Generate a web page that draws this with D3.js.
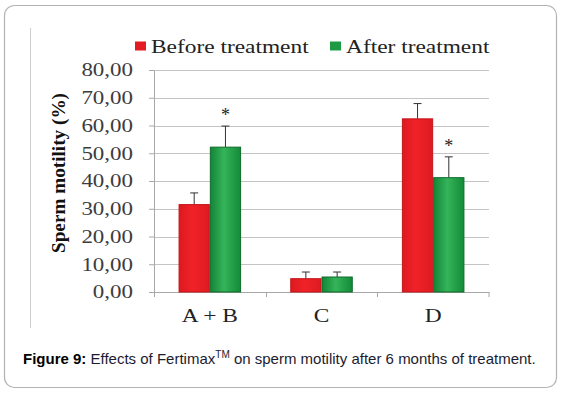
<!DOCTYPE html>
<html>
<head>
<meta charset="utf-8">
<script src="https://cdnjs.cloudflare.com/ajax/libs/d3/7.8.5/d3.min.js"></script>
<style>
  body { margin: 0; background: #fff; }
  svg { display: block; }
</style>
</head>
<body>
<svg id="chart"></svg>
<script>
// data
const categories = ['A + B', 'C', 'D'];
const seriesNames = ['Before treatment', 'After treatment'];
const beforeValues = [31.5, 4.8, 62.4];
const afterValues = [52.2, 5.4, 41.2];
const beforeErrors = [4.2, 2.4, 5.5];
const afterErrors = [7.6, 1.8, 7.5];
const afterSignificant = [true, false, true];
const yTicks = [0, 10, 20, 30, 40, 50, 60, 70, 80];

const W = 562, H = 393;
const plot = {left: 154, right: 489, top: 70, bottom: 292};
const serif = '"Liberation Serif", "Times New Roman", serif';
const sans = '"Liberation Sans", Arial, sans-serif';

const svg = d3.select('#chart').attr('width', W).attr('height', H);

// stretch text horizontally like the squeezed original image
function stretch(sel, k) {
  sel.each(function() {
    const w = this.getComputedTextLength();
    d3.select(this).attr('textLength', w * k).attr('lengthAdjust', 'spacingAndGlyphs');
  });
}

// outer frame of the figure
svg.append('rect')
    .attr('x', 4.5).attr('y', 5.5)
    .attr('width', 552).attr('height', 382)
    .attr('rx', 10)
    .attr('fill', '#fff')
    .attr('stroke', '#b3b3b3')
    .attr('stroke-width', 1.2);

// left edge of the pasted chart picture
svg.append('line')
    .attr('x1', 30.5).attr('x2', 30.5)
    .attr('y1', 28).attr('y2', 328)
    .attr('stroke', '#cfcfcf');

const defs = svg.append('defs');
const gGreen = defs.append('linearGradient').attr('id', 'gGreen');
gGreen.append('stop').attr('offset', '0%').attr('stop-color', '#138537');
gGreen.append('stop').attr('offset', '45%').attr('stop-color', '#35b45a');
gGreen.append('stop').attr('offset', '100%').attr('stop-color', '#148a39');
const gRed = defs.append('linearGradient').attr('id', 'gRed');
gRed.append('stop').attr('offset', '0%').attr('stop-color', '#dc1a1f');
gRed.append('stop').attr('offset', '45%').attr('stop-color', '#f02229');
gRed.append('stop').attr('offset', '100%').attr('stop-color', '#de1b21');

const fills = ['url(#gRed)', 'url(#gGreen)'];
const strokes = ['#c4161b', '#0e6b2b'];
const legendFills = ['#e31b23', '#1e9a45'];

// scales
const x0 = d3.scaleBand().domain(categories).range([plot.left, plot.right]);
const groupW = x0.bandwidth() * 0.56;
const x1 = d3.scaleBand().domain(seriesNames).range([0, groupW]);
const y = d3.scaleLinear().domain([0, 80]).range([plot.bottom, plot.top]);

// gridlines
svg.append('g')
    .selectAll('line')
    .data(yTicks.filter(d => d > 0))
    .join('line')
    .attr('x1', plot.left).attr('x2', plot.right)
    .attr('y1', d => Math.round(y(d)) + 0.5).attr('y2', d => Math.round(y(d)) + 0.5)
    .attr('stroke', '#c4c4c4')
    .attr('stroke-width', 1.2);

// y axis
const yAxisG = svg.append('g')
    .attr('transform', `translate(${plot.left},0)`)
    .call(d3.axisLeft(y).tickValues(yTicks).tickSize(5).tickSizeOuter(0)
      .tickFormat(d => d3.format('.2f')(d).replace('.', ',')));
yAxisG.select('.domain').attr('stroke', '#a8a8a8');
yAxisG.selectAll('.tick line').attr('stroke', '#a8a8a8');
yAxisG.selectAll('.tick text')
    .attr('x', -21)
    .attr('fill', '#3c3c3c')
    .style('font-family', serif)
    .style('font-size', '18.5px')
    .call(stretch, 1.24);

// x axis
const xAxisG = svg.append('g')
    .attr('transform', `translate(0,${plot.bottom})`)
    .call(d3.axisBottom(x0).tickSize(0).tickSizeOuter(0).tickPadding(16));
xAxisG.select('.domain').attr('stroke', '#a8a8a8');
xAxisG.selectAll('.tick text')
    .attr('fill', '#222')
    .style('font-family', serif)
    .style('font-size', '19.5px')
    .call(stretch, 1.2);
// category boundary ticks
xAxisG.selectAll('.sep')
    .data(categories)
    .join('line')
    .attr('class', 'sep')
    .attr('x1', d => Math.round(x0(d)) + 0.5).attr('x2', d => Math.round(x0(d)) + 0.5)
    .attr('y1', 0).attr('y2', 5)
    .attr('stroke', '#a8a8a8');
xAxisG.append('line')
    .attr('x1', plot.right).attr('x2', plot.right)
    .attr('y1', 0).attr('y2', 5)
    .attr('stroke', '#a8a8a8');

// bar data
const rows = [];
categories.forEach((c, i) => {
  rows.push({cat: c, s: 0, v: beforeValues[i], e: beforeErrors[i], sig: false});
  rows.push({cat: c, s: 1, v: afterValues[i], e: afterErrors[i], sig: afterSignificant[i]});
});
const bx = d => x0(d.cat) + (x0.bandwidth() - groupW) / 2 + x1(seriesNames[d.s]);

// error bars (upper only)
const err = svg.append('g');
err.selectAll('.eline')
    .data(rows)
    .join('line')
    .attr('x1', d => bx(d) + x1.bandwidth() / 2).attr('x2', d => bx(d) + x1.bandwidth() / 2)
    .attr('y1', d => y(d.v)).attr('y2', d => y(d.v + d.e))
    .attr('stroke', '#333');
err.selectAll('.ecap')
    .data(rows)
    .join('line')
    .attr('x1', d => bx(d) + x1.bandwidth() / 2 - 4).attr('x2', d => bx(d) + x1.bandwidth() / 2 + 4)
    .attr('y1', d => y(d.v + d.e)).attr('y2', d => y(d.v + d.e))
    .attr('stroke', '#333');

// bars
svg.append('g')
    .selectAll('rect')
    .data(rows)
    .join('rect')
    .attr('x', d => bx(d) + 0.5)
    .attr('y', d => y(d.v))
    .attr('width', x1.bandwidth() - 1)
    .attr('height', d => y(0) - y(d.v))
    .attr('fill', d => fills[d.s])
    .attr('stroke', d => strokes[d.s])
    .attr('stroke-width', 1);

// significance marks
svg.append('g')
    .selectAll('text')
    .data(rows.filter(d => d.sig))
    .join('text')
    .attr('x', d => bx(d) + x1.bandwidth() / 2)
    .attr('y', d => y(d.v + d.e) - 5)
    .attr('text-anchor', 'middle')
    .attr('fill', '#222')
    .style('font-family', serif)
    .style('font-size', '18px')
    .text('*');

// y axis title
svg.append('text')
    .attr('transform', 'translate(65,173) rotate(-90)')
    .attr('text-anchor', 'middle')
    .attr('fill', '#111')
    .style('font-family', serif)
    .style('font-size', '19px')
    .style('font-weight', 'bold')
    .attr('textLength', 160)
    .attr('lengthAdjust', 'spacingAndGlyphs')
    .text('Sperm motility (%)');

// legend
const legendX = [135, 330];
const legend = svg.append('g');
seriesNames.forEach((name, i) => {
  legend.append('rect')
      .attr('x', legendX[i]).attr('y', 41.5)
      .attr('width', 11).attr('height', 9)
      .attr('fill', legendFills[i]);
  legend.append('text')
      .attr('x', legendX[i] + 16).attr('y', 53)
      .attr('fill', '#222')
      .style('font-family', serif)
      .style('font-size', '19px')
      .text(name)
      .call(stretch, 1.23);
});

// caption
const cap = svg.append('text')
    .attr('x', 23).attr('y', 364)
    .attr('fill', '#1c1c30')
    .style('font-family', sans)
    .style('font-size', '15px');
cap.append('tspan').attr('font-weight', 'bold').attr('fill', '#000').text('Figure 9:');
cap.append('tspan').text(' Effects of Fertimax');
cap.append('tspan').attr('dy', -6).style('font-size', '10px').text('TM');
cap.append('tspan').attr('dy', 6).text(' on sperm motility after 6 months of treatment.');
</script>
</body>
</html>
